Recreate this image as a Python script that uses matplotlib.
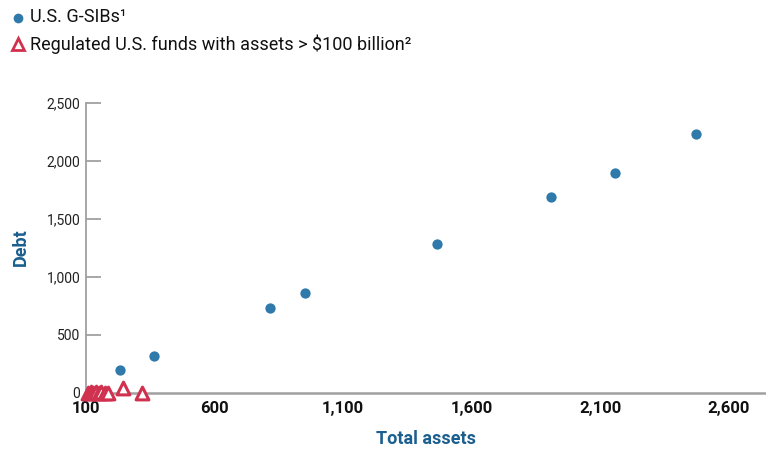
import matplotlib
matplotlib.use("Agg")
import matplotlib.pyplot as plt
from matplotlib.lines import Line2D

# Data (billions of dollars)
gsib_assets = [232, 364, 815, 951, 1465, 1908, 2157, 2472]
gsib_debt = [190, 311, 727, 856, 1280, 1687, 1894, 2232]

fund_assets = [108, 118, 128, 140, 150, 160, 172, 184, 244, 318]
fund_debt = [0, 5, 0, 3, 0, 2, 0, 0, 35, 0]

x_ticks = [100, 600, 1100, 1600, 2100, 2600]
y_ticks = [0, 500, 1000, 1500, 2000, 2500]

BLUE = "#2f7aab"
LABEL_BLUE = "#1a5f8e"
RED = "#d0314f"
FONT = ["Liberation Sans Narrow", "Roboto", "DejaVu Sans"]

plt.rcParams['font.family'] = FONT

fig = plt.figure(figsize=(7.66, 4.5), dpi=100)
ax = fig.add_axes([86/766, 1 - 392.5/450, 1 - 86/766, (392.5 - 102.7)/450])

ax.scatter(gsib_assets, gsib_debt, s=55, color=BLUE, zorder=3, clip_on=False, linewidths=0)
ax.scatter(fund_assets, fund_debt, s=85, marker="^", facecolors="white",
           edgecolors=RED, linewidths=2.2, zorder=4, clip_on=False)

ax.set_xlim(100, 2744)
ax.set_ylim(0, 2500)

for s in ["top", "right"]:
    ax.spines[s].set_visible(False)
ax.spines["left"].set_color("#a0a0a0")
ax.spines["bottom"].set_color("#a0a0a0")
ax.spines["left"].set_linewidth(1.3)
ax.spines["bottom"].set_linewidth(1.8)

ax.set_yticks(y_ticks)
ax.set_yticklabels([f"{v:,}" for v in y_ticks], fontsize=10, color="#222222")
ax.tick_params(axis="y", direction="in", length=11, width=1.3, color="#a0a0a0", pad=4)

ax.set_xticks(x_ticks)
ax.set_xticklabels([f"{v:,}" for v in x_ticks], fontsize=12, fontweight="bold", color="#111111")
ax.tick_params(axis="x", length=0, pad=6)

ax.set_xlabel("Total assets", fontsize=13, fontweight="bold", color=LABEL_BLUE, labelpad=10)
ax.set_ylabel("Debt", fontsize=13, fontweight="bold", color=LABEL_BLUE, labelpad=12)

# Legend at top-left
fig.add_artist(Line2D([18/766], [1 - 18/450], marker="o", markersize=7, color=BLUE,
                      markeredgewidth=0, linestyle="none", transform=fig.transFigure))
fig.text(30/766, 1 - 17/450, "U.S. G-SIBs\u00b9", fontsize=13, color="#111111", va="center", ha="left")
fig.add_artist(Line2D([18/766], [1 - 44/450], marker="^", markersize=9, color=RED,
                      markerfacecolor="white", markeredgewidth=2.0, linestyle="none",
                      transform=fig.transFigure))
fig.text(30/766, 1 - 44/450, "Regulated U.S. funds with assets > $100 billion\u00b2", fontsize=13,
         color="#111111", va="center", ha="left")

fig.savefig("out.png", dpi=100)
